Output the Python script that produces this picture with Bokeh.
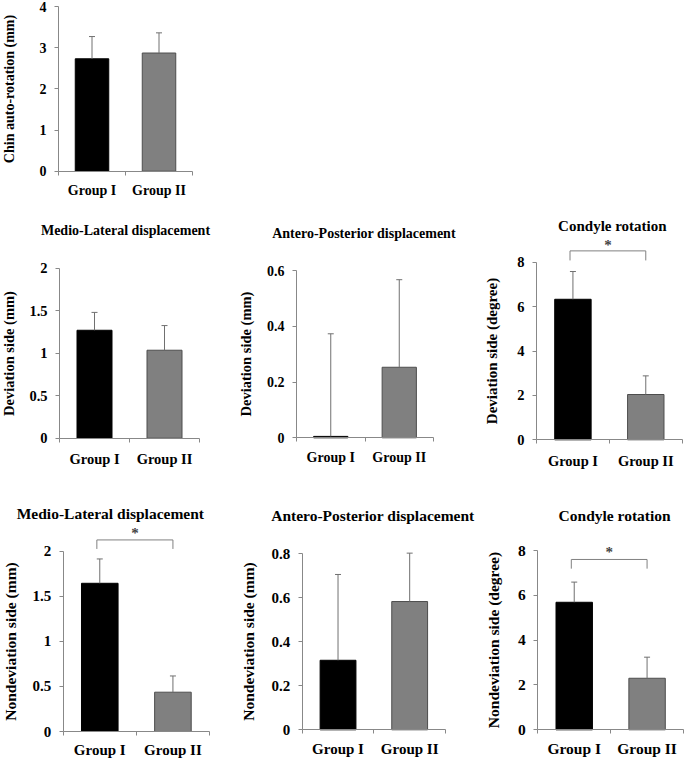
from bokeh.plotting import figure
from bokeh.models import (ColumnDataSource, LinearAxis, FixedTicker, NumeralTickFormatter,
                          Whisker, TeeHead, Label, Arrow, Range1d)
from bokeh.embed import file_html
from bokeh.resources import INLINE

# ---------------- data ----------------
groups = ["Group I", "Group II"]
group_pos = [0.5, 1.5]
group_edges = [0, 1, 2]
bar_fill = ["#000000", "#808080"]
bar_line = ["#000000", "#4d4d4d"]

chin_mean = [2.73, 2.87]
chin_sd = [0.54, 0.49]
ml_dev_mean = [1.27, 1.035]
ml_dev_sd = [0.21, 0.29]
ap_dev_mean = [0.005, 0.253]
ap_dev_sd = [0.368, 0.314]
cr_dev_mean = [6.33, 2.04]
cr_dev_sd = [1.25, 0.84]
ml_non_mean = [1.644, 0.436]
ml_non_sd = [0.27, 0.18]
ap_non_mean = [0.316, 0.583]
ap_non_sd = [0.39, 0.22]
cr_non_mean = [5.69, 2.30]
cr_non_sd = [0.90, 0.94]

chin_ticks = [0, 1, 2, 3, 4]
ml_ticks = [0, 0.5, 1, 1.5, 2]
ap_dev_ticks = [0, 0.2, 0.4, 0.6]
ap_non_ticks = [0, 0.2, 0.4, 0.6, 0.8]
cr_ticks = [0, 2, 4, 6, 8]

# significance brackets: x of the path, y of the path (foot, top, top, foot), star position
bracket_x = [0.46, 0.46, 1.5, 1.5]
cr_dev_bracket_y = [8.08, 8.51, 8.51, 8.08]
cr_dev_star = [0.98, 8.9]
ml_non_bracket_y = [2.025, 2.125, 2.125, 2.025]
ml_non_star = [0.98, 2.23]
cr_non_bracket_y = [7.19, 7.6, 7.6, 7.19]
cr_non_star = [0.98, 8.05]

title_ml = "Medio-Lateral displacement"
title_ap = "Antero-Posterior displacement"
title_cr = "Condyle rotation"
ylab_chin = "Chin auto-rotation (mm)"
ylab_dev_mm = "Deviation side (mm)"
ylab_dev_deg = "Deviation side (degree)"
ylab_non_mm = "Nondeviation side (mm)"
ylab_non_deg = "Nondeviation side (degree)"

# ---------------- style / layout ----------------
FONT = "Liberation Serif"
AX = "#888888"
ERR = "#707070"
BRK = "#808080"
W, H = 685, 759

p = figure(width=W, height=H, x_range=Range1d(0, W), y_range=Range1d(0, H),
           x_axis_type=None, y_axis_type=None, output_backend="svg", toolbar_location=None,
           min_border_left=0, min_border_right=0, min_border_top=0, min_border_bottom=0)
p.outline_line_color = None
p.background_fill_color = "white"
p.border_fill_color = "white"


def add_panel(key, mean, sd, ticks, ylabel, frame, title=None, bracket_y=None, star=None, *,
              fs_tick, fs_ylab, fs_title=14, ylab_standoff=15, xlab_standoff=10,
              title_off=(0, 36)):
    # frame = (left, top, right, bottom) of the plotting area in canvas pixels
    xl, yt, xr, yb = frame
    ymax = ticks[-1]
    sx = (xr - xl) / 2.0
    sy = (yb - yt) / float(ymax)
    x0 = -xl / sx
    y0 = -(H - yb) / sy
    p.extra_x_ranges[key] = Range1d(x0, x0 + W / sx)
    p.extra_y_ranges[key] = Range1d(y0, y0 + H / sy)
    rn = dict(x_range_name=key, y_range_name=key)

    src = ColumnDataSource(dict(x=group_pos, mean=mean,
                                upper=[m + s for m, s in zip(mean, sd)],
                                fill=bar_fill, line=bar_line))
    p.vbar(x="x", top="mean", bottom=0, width=0.5, fill_color="fill", line_color="line",
           line_width=1, source=src, **rn)
    p.add_layout(Whisker(source=src, base="x", upper="upper", lower="mean", dimension="height",
                         line_color=ERR, line_width=1, level="annotation",
                         upper_head=TeeHead(size=6, line_color=ERR, line_width=1),
                         lower_head=None, **rn))

    yax = LinearAxis(ticker=FixedTicker(ticks=ticks, minor_ticks=[]),
                     formatter=NumeralTickFormatter(format="0.[0]"),
                     fixed_location=0, bounds=(0, ymax),
                     axis_label=ylabel,
                     axis_line_color=AX, major_tick_line_color=AX,
                     major_tick_in=0, major_tick_out=4, minor_tick_line_color=None,
                     major_label_standoff=8,
                     major_label_text_font=FONT, major_label_text_font_style="bold",
                     major_label_text_font_size=f"{fs_tick}px", major_label_text_color="black",
                     axis_label_text_font=FONT, axis_label_text_font_style="bold",
                     axis_label_text_font_size=f"{fs_ylab}px", axis_label_text_color="black",
                     axis_label_standoff=int(round(ylab_standoff)), **rn)
    p.add_layout(yax, "left")

    xax = LinearAxis(ticker=FixedTicker(ticks=group_pos, minor_ticks=group_edges),
                     major_label_overrides={gp: g for gp, g in zip(group_pos, groups)},
                     fixed_location=0, bounds=(0, 2),
                     axis_line_color=AX, major_tick_line_color=None,
                     major_tick_in=0, major_tick_out=0,
                     minor_tick_line_color=AX, minor_tick_in=0, minor_tick_out=4,
                     major_label_standoff=int(round(xlab_standoff)),
                     major_label_text_font=FONT, major_label_text_font_style="bold",
                     major_label_text_font_size=f"{fs_tick}px", major_label_text_color="black",
                     **rn)
    p.add_layout(xax, "below")

    if title:
        p.add_layout(Label(x=1, y=ymax, x_offset=title_off[0], y_offset=title_off[1], text=title,
                           text_align="center", text_baseline="middle", text_font=FONT,
                           text_font_style="bold", text_font_size=f"{fs_title}px",
                           text_color="black", **rn))
    if bracket_y is not None:
        seg = ColumnDataSource(dict(x0=bracket_x[:-1], y0=bracket_y[:-1],
                                    x1=bracket_x[1:], y1=bracket_y[1:]))
        p.add_layout(Arrow(source=seg, x_start="x0", y_start="y0", x_end="x1", y_end="y1",
                           start=None, end=None, line_color=BRK, line_width=1, **rn))
        p.add_layout(Label(x=star[0], y=star[1], y_offset=-3, text="*", text_align="center",
                           text_baseline="middle", text_font=FONT, text_font_style="bold",
                           text_font_size="15px", text_color="#444444", **rn))


add_panel("chin", chin_mean, chin_sd, chin_ticks, ylab_chin, (58, 6, 192, 170.7),
          fs_tick=14, fs_ylab=14, ylab_standoff=20, xlab_standoff=8)

add_panel("mld", ml_dev_mean, ml_dev_sd, ml_ticks, ylab_dev_mm, (59, 267.7, 199, 437.7),
          title_ml, fs_tick=14.5, fs_ylab=14.5, fs_title=14, ylab_standoff=9,
          xlab_standoff=9, title_off=(-4, 38))
add_panel("apd", ap_dev_mean, ap_dev_sd, ap_dev_ticks, ylab_dev_mm, (296, 270, 433, 437.3),
          title_ap, fs_tick=14, fs_ylab=14.5, fs_title=14, ylab_standoff=10,
          xlab_standoff=8, title_off=(-1, 37))
add_panel("crd", cr_dev_mean, cr_dev_sd, cr_ticks, ylab_dev_deg, (536, 261.7, 681.7, 439.3),
          title_cr, cr_dev_bracket_y, cr_dev_star, fs_tick=14.5, fs_ylab=15, fs_title=15,
          ylab_standoff=14, xlab_standoff=9, title_off=(3, 36))

add_panel("mln", ml_non_mean, ml_non_sd, ml_ticks, ylab_non_mm, (62.7, 550.7, 209, 731),
          title_ml, ml_non_bracket_y, ml_non_star, fs_tick=15, fs_ylab=15.5, fs_title=15.5,
          ylab_standoff=11, xlab_standoff=6, title_off=(-26, 38))
add_panel("apn", ap_non_mean, ap_non_sd, ap_non_ticks, ylab_non_mm, (301.7, 553.3, 445, 729.3),
          title_ap, fs_tick=15, fs_ylab=15.5, fs_title=15.5, ylab_standoff=12,
          xlab_standoff=7, title_off=(-1, 38))
add_panel("crn", cr_non_mean, cr_non_sd, cr_ticks, ylab_non_deg, (537.3, 550, 683, 729.3),
          title_cr, cr_non_bracket_y, cr_non_star, fs_tick=15.5, fs_ylab=15.5, fs_title=15.5,
          ylab_standoff=13, xlab_standoff=6, title_off=(4, 35))

open("out.html", "w").write(file_html(p, INLINE))
